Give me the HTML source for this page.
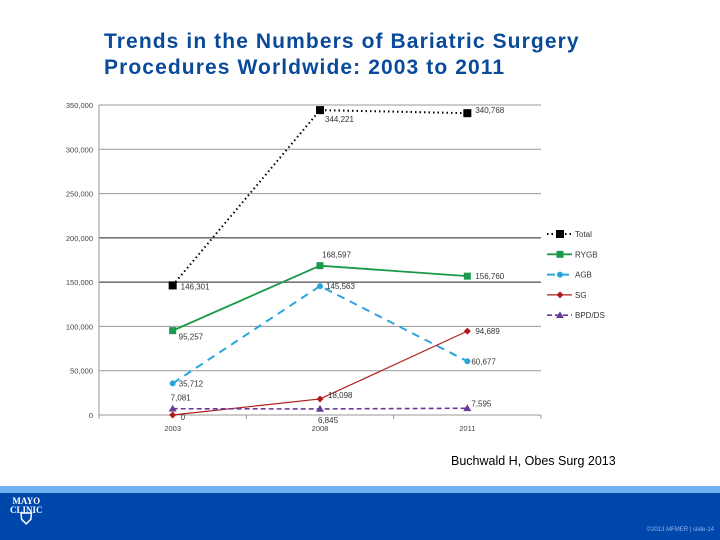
<!DOCTYPE html>
<html><head><meta charset="utf-8"><style>
body{margin:0;width:720px;height:540px;background:#fff;overflow:hidden;position:relative;font-family:"Liberation Sans",sans-serif}
#title{position:absolute;left:104px;top:29px;font-size:21px;font-weight:bold;letter-spacing:1.1px;line-height:26px;color:#0a4a9a}
#cite{position:absolute;left:451px;top:454px;font-size:12.5px;color:#000}
#stripe{position:absolute;left:0;top:486px;width:720px;height:7px;background:#6fb0f0}
#footer{position:absolute;left:0;top:493px;width:720px;height:47px;background:#0047ab}
svg{position:absolute;left:0;top:0}
</style></head><body>
<div id="title">Trends in the Numbers of Bariatric Surgery<br>Procedures Worldwide: 2003 to 2011</div>
<svg id="chart" width="720" height="540"></svg>
<div id="cite">Buchwald H, Obes Surg 2013</div>
<div id="stripe"></div>
<div id="footer">
<div style="position:absolute;left:10px;top:4px;color:#fff;font:bold 9px 'Liberation Serif',serif;line-height:9px;text-align:center">MAYO<br>CLINIC<br><span style="font-size:16px">⛉</span></div>
<div style="position:absolute;right:6px;top:34px;color:#8fb4ee;font-size:6px">©2013 MFMER | slide-14</div>
</div>
<script>
const years=["2003","2008","2011"];
const total=[146301,344221,340768];
const rygb=[95257,168597,156760];
const agb=[35712,145563,60677];
const sg=[0,18098,94689];
const bpd=[7081,6845,7595];
const yTicks=[0,50000,100000,150000,200000,250000,300000,350000];
const yTickLabels=["0","50,000","100,000","150,000","200,000","250,000","300,000","350,000"];
const NS="http://www.w3.org/2000/svg";
const svg=document.getElementById('chart');
const x0=99,x1=541,yb=415,yt=105;
const X=i=>x0+(x1-x0)/years.length*(i+0.5);
const Y=v=>yb-(v/350000)*(yb-yt);
function mk(t,a){const e=document.createElementNS(NS,t);for(const k in a)e.setAttribute(k,a[k]);svg.appendChild(e);return e;}
yTicks.forEach((v,i)=>{
 const g=mk('line',{x1:x0,x2:x1,y1:Y(v),y2:Y(v),stroke:(v==150000||v==200000)?'#777':'#999','stroke-width':(v==150000||v==200000)?1.6:1});
 
 const t=mk('text',{x:93,y:Y(v)+3,'font-size':7.5,'text-anchor':'end',fill:'#444'});t.textContent=yTickLabels[i];
 
});
const ax=mk('line',{x1:x0,x2:x0,y1:yt,y2:yb,stroke:'#999'});

for(let i=0;i<=years.length;i++){const tk=mk('line',{x1:x0+(x1-x0)/3*i,x2:x0+(x1-x0)/3*i,y1:yb,y2:yb+4,stroke:'#999'});}
years.forEach((y,i)=>{const t=mk('text',{x:X(i),y:yb+16,'font-size':7.5,'text-anchor':'middle',fill:'#444'});t.textContent=y;});
function fmt(v){return v.toLocaleString('en-US');}
const series=[
 {n:'Total',d:total,c:'#000',dash:'1.5 3',w:2,m:'sq',ms:8,off:[[8,4],[5,12],[8,0]]},
 {n:'RYGB',d:rygb,c:'#1a9a4a',dash:'',w:1.8,m:'sq',ms:7,off:[[6,9],[2,-8],[8,3]]},
 {n:'AGB',d:agb,c:'#2aa5dc',dash:'8 6',w:2,m:'ci',ms:3,off:[[6,3],[6,3],[4,3]]},
 {n:'SG',d:sg,c:'#b01c1c',dash:'',w:1.2,m:'di',ms:3.5,off:[[8,5],[8,-1],[8,3]]},
 {n:'BPD/DS',d:bpd,c:'#6a3a9a',dash:'5 3',w:1.6,m:'tr',ms:4,off:[[-2,-8],[-2,14],[4,-2]]}
];
function marker(s,x,y){let e;
 if(s.m=='sq')e=mk('rect',{x:x-s.ms/2,y:y-s.ms/2,width:s.ms,height:s.ms,fill:s.c});
 else if(s.m=='ci')e=mk('circle',{cx:x,cy:y,r:s.ms,fill:s.c});
 else if(s.m=='di')e=mk('polygon',{points:`${x},${y-s.ms} ${x+s.ms},${y} ${x},${y+s.ms} ${x-s.ms},${y}`,fill:s.c});
 else e=mk('polygon',{points:`${x},${y-s.ms} ${x+s.ms},${y+s.ms*0.7} ${x-s.ms},${y+s.ms*0.7}`,fill:s.c});
 return e;}
series.forEach((s,si)=>{
 const p=mk('polyline',{points:s.d.map((v,i)=>X(i)+','+Y(v)).join(' '),fill:'none',stroke:s.c,'stroke-width':s.w,'stroke-dasharray':s.dash});
 
 s.d.forEach((v,i)=>{
  const m=marker(s,X(i),Y(v));
  const t=mk('text',{x:X(i)+s.off[i][0],y:Y(v)+s.off[i][1],'font-size':8,fill:'#333'});t.textContent=fmt(v);
  
 });
 const ly=234+si*20.3;
 const ll=mk('line',{x1:547,x2:572,y1:ly,y2:ly,stroke:s.c,'stroke-width':s.w,'stroke-dasharray':s.dash});
 
 const lm=marker(s,560,ly);
 const lt=mk('text',{x:575,y:ly+3,'font-size':8,fill:'#333'});lt.textContent=s.n;
 
});
</script>
</body></html>
